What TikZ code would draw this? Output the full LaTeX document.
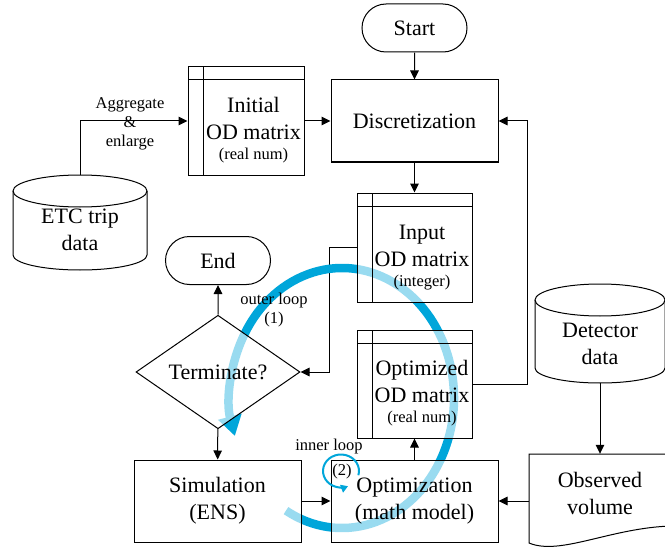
\documentclass[tikz,border=0pt]{standalone}
\usepackage{fontspec}
\setmainfont{Liberation Serif}
\usetikzlibrary{arrows.meta, shapes.geometric, shapes.misc, backgrounds}

\newcommand{\bigtext}{\fontsize{22}{27}\selectfont}
\newcommand{\smalltext}{\fontsize{16.5}{19}\selectfont}
\definecolor{loopblue}{RGB}{0,166,218}

\tikzset{
    box/.style={draw, line width=1pt, fill=white, fill opacity=.6, text opacity=1, align=center, inner sep=0pt},
    proc/.style={box, minimum width=167pt, minimum height=82pt},
    term/.style={box, rounded rectangle, minimum width=105pt, minimum height=48pt},
    decide/.style={box, diamond, minimum width=164pt, minimum height=97pt},
    storage/.style={box, minimum width=115pt, minimum height=109pt,
        path picture={
            \draw[line width=1pt] ([xshift=15pt]path picture bounding box.north west) -- ([xshift=15pt]path picture bounding box.south west);
            \draw[line width=1pt] ([yshift=-13pt]path picture bounding box.north west) -- ([yshift=-13pt]path picture bounding box.north east);
        }},
    region/.style={align=center, inner sep=0pt},
    link/.style={line width=1pt},
    flow/.style={line width=1pt, -{Triangle[width=8.5pt,length=9pt]}},
    outerloop/.style={line width=8.5pt, loopblue, -{Triangle[width=23pt,length=20pt]}},
    innerloop/.style={line width=2pt, loopblue, -{Triangle[width=8pt,length=7pt]}},
    note/.style={font=\smalltext, align=center, inner sep=0pt},
}

\begin{document}
\begin{tikzpicture}[x=1pt, y=-1pt, font=\bigtext]
    \useasboundingbox (0,0) rectangle (665,551);
    \clip (0,0) rectangle (665,551);

    % data stores and the observed volume sheet
    \draw[link, fill=white] (80,191) ellipse [x radius=67pt, y radius=16pt];
    \draw[link] (13,191) -- (13,255) arc[start angle=180, end angle=360, x radius=67pt, y radius=15pt] -- (147,191);
    \draw[link, fill=white] (600,300) ellipse [x radius=65pt, y radius=16pt];
    \draw[link] (535,300) -- (535,368) arc[start angle=180, end angle=360, x radius=65pt, y radius=15pt] -- (665,300);
    \draw[link, fill=white] (529,454) -- (671,454) -- (671,526) .. controls (610,528) and (560,556) .. (529,543) -- cycle;

    \node[region, minimum width=134pt, minimum height=110pt] (etc) at (80,230) {ETC trip\\data};
    \node[region, minimum width=130pt, minimum height=78pt] (det) at (600,344) {Detector\\data};
    \node[region, minimum width=142pt, minimum height=94pt,
        label={[align=center, yshift=7.5pt]center:Observed\\volume}] (obs) at (600,501) {};

    % flow chart
    \node[term] (start) at (414.5,28) {Start};
    \node[proc] (disc) at (414.5,121) {Discretization};
    \node[storage, minimum width=116pt] (initod) at (246,121) {};
    \node[storage] (inod) at (414.5,247.5) {};
    \node[storage, minimum height=108pt] (optod) at (414.5,384) {};
    \node[term] (end) at (218,260.5) {End};
    \node[decide] (check) at (218,372) {Terminate?};
    \node[proc] (sim) at (217.5,501) {Simulation\\(ENS)};
    \node[proc] (opt) at (414.5,501) {Optimization\\(math model)};

    \node[region] (initodtxt) at (253.5,130.5) {Initial\\OD matrix\\[-7pt]{\smalltext (real num)}};
    \node[region] (inodtxt) at (422,257.7) {Input\\OD matrix\\[-7pt]{\smalltext (integer)}};
    \node[region] (optodtxt) at (422,393.5) {Optimized\\OD matrix\\[-7pt]{\smalltext (real num)}};

    \begin{pgfonlayer}{background}
        \draw[flow] (etc.north) |- (initod.west);
        \draw[flow] (start) -- (disc);
        \draw[flow] (initod) -- (disc);
        \draw[flow] (disc) -- (inod);
        \draw[flow] (inod.west) -- ++(-27,0) |- (check.east);
        \draw[flow] (check) -- (end);
        \draw[flow] (check) -- (sim);
        \draw[flow] (sim) -- (opt);
        \draw[flow] (opt) -- (optod);
        \draw[flow] (optod.east) -- ++(55,0) |- (disc.east);
        \draw[flow] (det.south) -- (det.south |- obs.north);
        \draw[flow] (obs.west |- opt.east) -- (opt.east);

        % outer loop
        \draw[outerloop] (342,398) ++(-120:112pt and 130pt)
            arc[start angle=-120, end angle=197, x radius=112pt, y radius=130pt];
    \end{pgfonlayer}

    % inner loop
    \draw[innerloop] (341,471) ++(-15:18pt and 16.5pt)
        arc[start angle=-15, end angle=293, x radius=18pt, y radius=16.5pt];

    \node[note] (agg) at (130,124) {Aggregate\\\&\\enlarge};
    \node[note] (outerlbl) at (274,310) {outer loop\\(1)};
    \node[note] (innerlbl) at (329,447) {inner loop};
    \node[note] (innernum) at (342,472) {(2)};
\end{tikzpicture}
\end{document}
